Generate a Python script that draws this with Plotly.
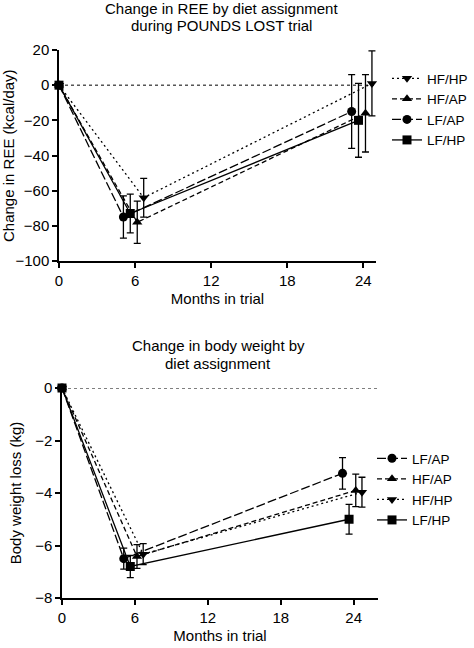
import plotly.graph_objects as go

# ---- data ----
months = [0, 6, 24]

ree_series = ["HF/HP", "HF/AP", "LF/AP", "LF/HP"]
ree_hfhp = [0, -64, 1]
ree_hfhp_err = [0, 11, 18.5]
ree_hfap = [0, -78, -16]
ree_hfap_err = [0, 12, 22]
ree_lfap = [0, -75, -15]
ree_lfap_err = [0, 12, 21]
ree_lfhp = [0, -73, -20]
ree_lfhp_err = [0, 11, 21]

wt_series = ["LF/AP", "HF/AP", "HF/HP", "LF/HP"]
wt_lfap = [0, -6.5, -3.25]
wt_lfap_err = [0, 0.4, 0.6]
wt_hfap = [0, -6.42, -3.9]
wt_hfap_err = [0, 0.45, 0.62]
wt_hfhp = [0, -6.33, -3.97]
wt_hfhp_err = [0, 0.4, 0.57]
wt_lfhp = [0, -6.8, -5.0]
wt_lfhp_err = [0, 0.42, 0.57]

x_ticks = [0, 6, 12, 18, 24]

# ---- styles ----
FONT = "Liberation Sans, Arial, sans-serif"
FS = 15
LFS = 13.5
style = {
    "HF/HP": dict(symbol="triangle-down", dash="2px,3px", offset=0.68),
    "HF/AP": dict(symbol="triangle-up", dash="5px,3px", offset=0.17),
    "LF/AP": dict(symbol="circle", dash="9px,3px", offset=-0.92),
    "LF/HP": dict(symbol="square", dash="solid", offset=-0.38),
}

def xs(name):
    off = style[name]["offset"]
    return [m + (off if m != 0 else 0) for m in months]

fig = go.Figure()

def add(name, y, err, xa, ya, legend):
    st = style[name]
    fig.add_trace(go.Scatter(
        x=xs(name), y=y, name=name, mode="lines+markers",
        xaxis=xa, yaxis=ya, legend=legend, cliponaxis=False,
        line=dict(color="black", width=1.3, dash=st["dash"]),
        marker=dict(symbol=st["symbol"], size=9, color="black"),
        error_y=dict(type="data", array=err, color="black", thickness=1.3, width=3.5),
    ))

ree_data = {"HF/HP": (ree_hfhp, ree_hfhp_err), "HF/AP": (ree_hfap, ree_hfap_err),
            "LF/AP": (ree_lfap, ree_lfap_err), "LF/HP": (ree_lfhp, ree_lfhp_err)}
for n in ree_series:
    add(n, *ree_data[n], "x", "y", "legend")

wt_data = {"LF/AP": (wt_lfap, wt_lfap_err), "HF/AP": (wt_hfap, wt_hfap_err),
           "HF/HP": (wt_hfhp, wt_hfhp_err), "LF/HP": (wt_lfhp, wt_lfhp_err)}
for n in wt_series:
    add(n, *wt_data[n], "x2", "y2", "legend2")

W, H = 474, 648
def px(v): return v / W
def py(v): return 1 - v / H

axis_common = dict(showline=True, linecolor="black", linewidth=1.5, ticks="outside",
                   ticklen=5, tickwidth=1.5, tickcolor="black", showgrid=False,
                   zeroline=False, automargin=False,
                   tickfont=dict(size=FS, color="black", family=FONT),
                   title_font=dict(size=FS, color="black", family=FONT))

def label(text, x, y, angle=0):
    return dict(text=text, x=px(x), y=py(y), xref="paper", yref="paper",
                xanchor="center", yanchor="middle", showarrow=False, textangle=angle,
                font=dict(size=FS, family=FONT, color="black"))

fig.update_layout(
    width=W, height=H, margin=dict(l=0, r=0, t=0, b=0, autoexpand=False),
    paper_bgcolor="white", plot_bgcolor="white",
    font=dict(family=FONT, color="black", size=FS),
    showlegend=True,
    xaxis=dict(domain=[px(59), px(376)], range=[0, 25], tickvals=x_ticks, anchor="y",
               title=dict(text="Months in trial", standoff=6), **axis_common),
    yaxis=dict(domain=[py(261), py(50)], range=[-100, 20], dtick=20, anchor="x",
               **axis_common),
    xaxis2=dict(domain=[px(62), px(378)], range=[0, 26], tickvals=x_ticks, anchor="y2",
                title=dict(text="Months in trial", standoff=6), **axis_common),
    yaxis2=dict(domain=[py(598), py(388)], range=[-8, 0], dtick=2, anchor="x2",
                title=dict(text="Body weight loss (kg)", standoff=10), **axis_common),
    legend=dict(x=px(387), y=py(63), xanchor="left", yanchor="top", itemwidth=30,
                font=dict(size=LFS, family=FONT), tracegroupgap=0, bgcolor="rgba(0,0,0,0)"),
    legend2=dict(x=px(372), y=py(443), xanchor="left", yanchor="top", itemwidth=30,
                 font=dict(size=LFS, family=FONT), tracegroupgap=0, bgcolor="rgba(0,0,0,0)"),
    shapes=[
        dict(type="line", xref="x", yref="y", x0=0, x1=25, y0=0, y1=0,
             line=dict(color="black", width=1, dash="dot")),
        dict(type="line", xref="x2", yref="y2", x0=0, x1=26, y0=0, y1=0,
             line=dict(color="black", width=1, dash="dot")),
    ],
    annotations=[
        label("Change in REE by diet assignment", 221, 9),
        label("during POUNDS LOST trial", 221, 26),
        label("Change in body weight by", 218, 345),
        label("diet assignment", 218, 363),
        label("Change in REE (kcal/day)", 9, 156, -90),
    ],
)

fig.write_html("out.html", post_script="document.body.style.margin='0';",
               config={"displayModeBar": False})
